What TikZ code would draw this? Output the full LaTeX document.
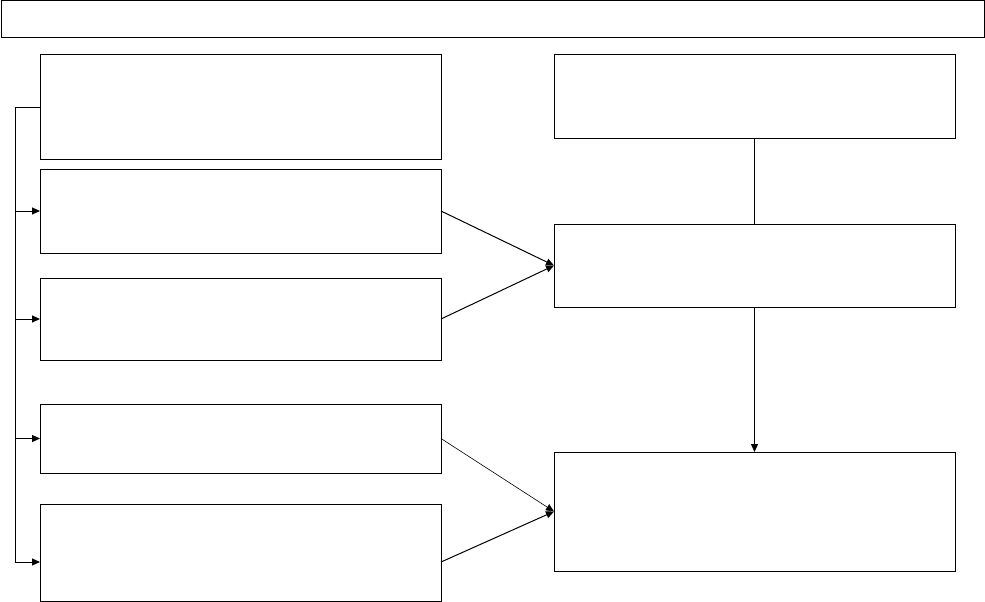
\documentclass[tikz,border=0pt]{standalone}
\usetikzlibrary{arrows.meta}
\begin{document}
\begin{tikzpicture}[x=1pt,y=-1pt,
  box/.style={draw=black,line width=1pt,anchor=north west,inner sep=0pt,outer sep=0pt},
  conn/.style={line width=1pt},
  arr/.style={conn,-{Triangle[length=8pt,width=7pt]}}]
\useasboundingbox (0,0) rectangle (985,602);
\node[box,minimum width=983pt,minimum height=37pt] (banner) at (1,1) {};
\node[box,minimum width=401pt,minimum height=104pt] (b1) at (40,55) {};
\node[box,minimum width=401pt,minimum height=84pt] (b2) at (40,169) {};
\node[box,minimum width=401pt,minimum height=82pt] (b3) at (40,278) {};
\node[box,minimum width=401pt,minimum height=69pt] (b4) at (40,404) {};
\node[box,minimum width=401pt,minimum height=97pt] (b5) at (40,504) {};
\node[box,minimum width=401pt,minimum height=83pt] (r1) at (554,55) {};
\node[box,minimum width=401pt,minimum height=83pt] (r2) at (554,224) {};
\node[box,minimum width=401pt,minimum height=119pt] (r3) at (554,452) {};
\coordinate (bustop) at (15,107);
\coordinate (busbot) at (15,562);
\coordinate (b5in) at (40,562);
\coordinate (b5out) at (441,562);
\draw[conn] (b1.west) -- (bustop) -- (busbot);
\draw[arr] (bustop |- b2.west) -- (b2.west);
\draw[arr] (bustop |- b3.west) -- (b3.west);
\draw[arr] (bustop |- b4.west) -- (b4.west);
\draw[arr] (busbot) -- (b5in);
\draw[arr] (b2.east) -- (r2.west);
\draw[arr] (b3.east) -- (r2.west);
\draw[arr,line width=0.6pt] (b4.east) -- (r3.west);
\draw[arr] (b5out) -- (r3.west);
\draw[conn] (r1.south) -- (r2.north);
\draw[arr] (r2.south) -- (r3.north);
\end{tikzpicture}
\end{document}
